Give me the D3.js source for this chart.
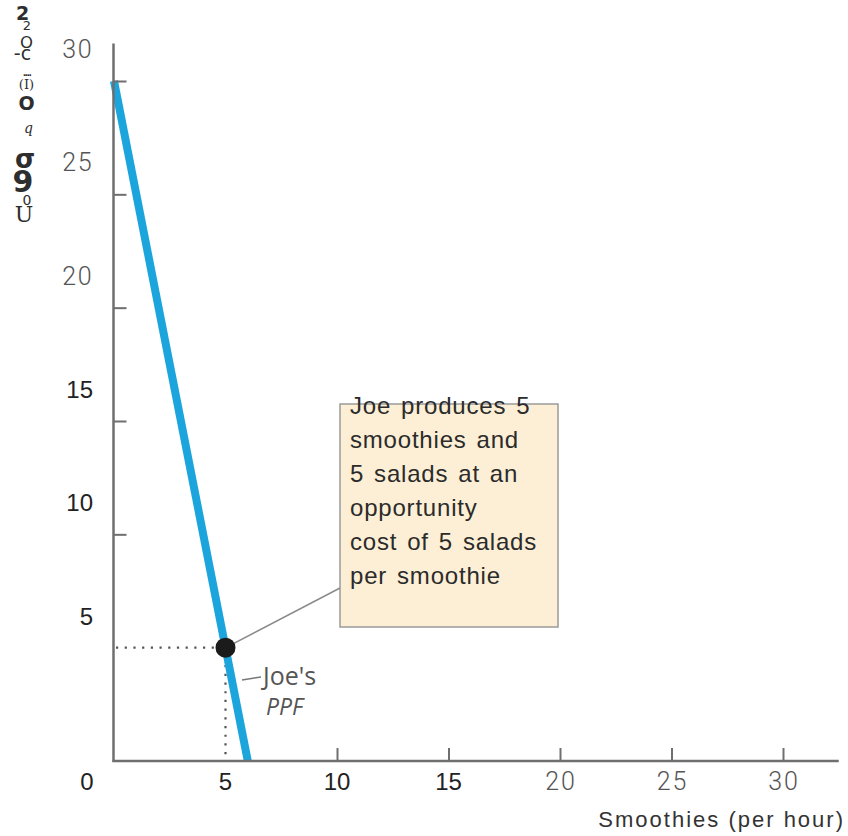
<!DOCTYPE html>
<html>
<head>
<meta charset="utf-8">
<script src="https://cdn.jsdelivr.net/npm/d3@7"></script>
<style>
  html, body { margin: 0; padding: 0; background: #ffffff; }
  svg { display: block; }
</style>
</head>
<body>
<svg id="chart" width="848" height="836"></svg>
<script>
// Joe's production possibilities frontier (smoothies vs salads per hour)
const xTickValues = [0, 5, 10, 15, 20, 25, 30];
const yTickValues = [5, 10, 15, 20, 25, 30];
const ppfSmoothies = [0, 6];
const ppfSalads = [30, 0];
const joeSmoothies = [5];
const joeSalads = [5];
const noteLines = ["Joe produces 5", "smoothies and", "5 salads at an", "opportunity", "cost of 5 salads", "per smoothie"];
const ppfLabel = ["Joe's", "PPF"];
const xTitle = "Smoothies (per hour)";
const yTitleGlyphs = ["2", "2", "O", "-c", "....", "(I)", "O", "q", "σ", "9", "0", "U"];

// placement and styling of the stacked axis-title glyphs (cx, baseline, size, bold, serif, italic)
const glyphStyle = [
  [22.5, 20, 19, 1, 0, 0],
  [27, 30, 13, 0, 0, 0],
  [26.5, 48, 16.5, 0, 0, 0],
  [22.5, 60, 19, 0, 0, 0],
  [26.5, 76, 9, 1, 0, 0],
  [26.5, 89, 13, 0, 1, 0],
  [26.5, 110, 19, 1, 0, 0],
  [28.5, 133, 14, 0, 1, 1],
  [25, 168, 26, 1, 0, 0],
  [23, 192, 30, 1, 0, 0],
  [27, 205, 14, 0, 0, 0],
  [24, 222, 22, 0, 1, 0]
];

const svg = d3.select("#chart");

const x = d3.scaleLinear().domain([0, 30]).range([114, 783]);
const y = d3.scaleLinear().domain([0, 30]).range([761, 81]);

const axisColor = "#6f6f6f";
const sansDark = "'Liberation Sans', Arial, sans-serif";
const sansLight = "Roboto, Lato, Inter, sans-serif";
const humanist = "'Open Sans', 'Noto Sans', sans-serif";

// ---- annotation box ----
const box = { x: 340, y: 404, w: 218, h: 223 };
svg.append("rect")
  .attr("x", box.x).attr("y", box.y).attr("width", box.w).attr("height", box.h)
  .attr("fill", "#fcefd5")
  .attr("stroke", "#9a9a9a").attr("stroke-width", 1.5);

// leader from Joe's point to the box
svg.append("line")
  .attr("x1", x(joeSmoothies[0]) + 6).attr("y1", y(joeSalads[0]) - 3)
  .attr("x2", box.x).attr("y2", 588)
  .attr("stroke", "#8a8a8a").attr("stroke-width", 1.5);

svg.append("g").selectAll("text").data(noteLines).join("text")
  .attr("x", box.x + 10).attr("y", (d, i) => 414 + i * 34)
  .attr("font-family", sansDark).attr("font-size", 24)
  .attr("letter-spacing", 0.8).attr("word-spacing", 2.5)
  .attr("fill", "#2b2b2b")
  .text(d => d);

// ---- dotted guides to Joe's point ----
const dots = svg.append("g").attr("stroke", "#555").attr("stroke-width", 2.2)
  .attr("stroke-dasharray", "2.2,6.5");
dots.append("line")
  .attr("x1", x(0) + 2).attr("x2", x(joeSmoothies[0]))
  .attr("y1", y(joeSalads[0])).attr("y2", y(joeSalads[0]));
dots.append("line")
  .attr("x1", x(joeSmoothies[0])).attr("x2", x(joeSmoothies[0]))
  .attr("y1", y(joeSalads[0])).attr("y2", y(0) - 2);

// ---- PPF line ----
const ppf = ppfSmoothies.map((s, i) => [s, ppfSalads[i]]);
svg.append("path")
  .datum(ppf)
  .attr("d", d3.line().x(d => x(d[0])).y(d => y(d[1])))
  .attr("fill", "none")
  .attr("stroke", "#1ca5dd")
  .attr("stroke-width", 8);

// ---- Joe's PPF label ----
svg.append("line")
  .attr("x1", 242).attr("y1", 680).attr("x2", 261).attr("y2", 677)
  .attr("stroke", "#777").attr("stroke-width", 1.5);
svg.append("text")
  .attr("x", 263).attr("y", 685)
  .attr("font-family", humanist).attr("font-size", 25)
  .attr("fill", "#555")
  .text(ppfLabel[0]);
svg.append("text")
  .attr("x", 266).attr("y", 715)
  .attr("font-family", humanist).attr("font-size", 23)
  .attr("font-style", "italic")
  .attr("fill", "#555")
  .text(ppfLabel[1]);

// ---- Joe's production point ----
svg.selectAll("circle.joe").data(joeSmoothies).join("circle")
  .attr("class", "joe")
  .attr("cx", d => x(d)).attr("cy", (d, i) => y(joeSalads[i]))
  .attr("r", 10)
  .attr("fill", "#1b1b1b");

// ---- axes ----
const yAxis = d3.axisRight(y)
  .tickValues(yTickValues.filter(v => v >= 10))
  .tickSizeInner(13).tickSizeOuter(0)
  .tickFormat("");
const gy = svg.append("g").attr("transform", `translate(${x(0) - 0.5},0)`).call(yAxis);
gy.select(".domain").remove();
gy.selectAll(".tick line").attr("stroke", axisColor).attr("stroke-width", 2);

const xAxis = d3.axisTop(x)
  .tickValues(xTickValues.filter(v => v >= 10))
  .tickSizeInner(13).tickSizeOuter(0)
  .tickFormat("");
const gx = svg.append("g").attr("transform", `translate(0,${y(0)})`).call(xAxis);
gx.select(".domain").remove();
gx.selectAll(".tick line").attr("stroke", axisColor).attr("stroke-width", 2);

// axis lines
svg.append("line")
  .attr("x1", x(0) - 0.5).attr("x2", x(0) - 0.5)
  .attr("y1", y(31.65)).attr("y2", y(0) + 1)
  .attr("stroke", axisColor).attr("stroke-width", 2.5);
svg.append("line")
  .attr("x1", x(0) - 1.5).attr("x2", x(32.5))
  .attr("y1", y(0)).attr("y2", y(0))
  .attr("stroke", axisColor).attr("stroke-width", 2.5);

// tick labels: larger values in a light face, small ones in a dark face
const isLight = v => v >= 20;
svg.append("g").selectAll("text").data(yTickValues).join("text")
  .attr("x", 93)
  .attr("y", d => y(d) - 32 + 9)
  .attr("text-anchor", "end")
  .attr("font-family", d => isLight(d) ? sansLight : sansDark)
  .attr("font-weight", d => isLight(d) ? 300 : 400)
  .attr("font-size", d => isLight(d) ? 25 : 24)
  .attr("letter-spacing", d => isLight(d) ? 1.5 : 0)
  .attr("fill", d => isLight(d) ? "#555" : "#222")
  .text(d => d);

svg.append("g").selectAll("text").data(xTickValues).join("text")
  .attr("x", d => d === 0 ? x(0) - 27 : x(d) + (isLight(d) ? 1 : 0))
  .attr("y", 790)
  .attr("text-anchor", "middle")
  .attr("font-family", d => isLight(d) ? sansLight : sansDark)
  .attr("font-weight", d => isLight(d) ? 300 : 400)
  .attr("font-size", d => isLight(d) ? 25 : 24)
  .attr("letter-spacing", d => isLight(d) ? 2 : 0)
  .attr("fill", d => isLight(d) ? "#555" : "#222")
  .text(d => d);

// x-axis title
svg.append("text")
  .attr("x", 845).attr("y", 827)
  .attr("text-anchor", "end")
  .attr("font-family", sansDark).attr("font-size", 22)
  .attr("letter-spacing", 2)
  .attr("fill", "#333")
  .text(xTitle);

// y-axis title, set as one text holding a vertical stack of glyphs
svg.append("text")
  .attr("fill", "#2e2e2e")
  .attr("text-anchor", "middle")
  .selectAll("tspan").data(yTitleGlyphs).join("tspan")
  .attr("x", (g, i) => glyphStyle[i][0])
  .attr("y", (g, i) => glyphStyle[i][1])
  .attr("font-size", (g, i) => glyphStyle[i][2])
  .attr("font-weight", (g, i) => glyphStyle[i][3] ? 700 : 400)
  .attr("font-family", (g, i) => glyphStyle[i][4] ? "'DejaVu Serif', 'Liberation Serif', serif" : "'DejaVu Sans', sans-serif")
  .attr("font-style", (g, i) => glyphStyle[i][5] ? "italic" : "normal")
  .attr("letter-spacing", g => g === "...." ? -1.5 : 0)
  .text(g => g);
</script>
</body>
</html>
